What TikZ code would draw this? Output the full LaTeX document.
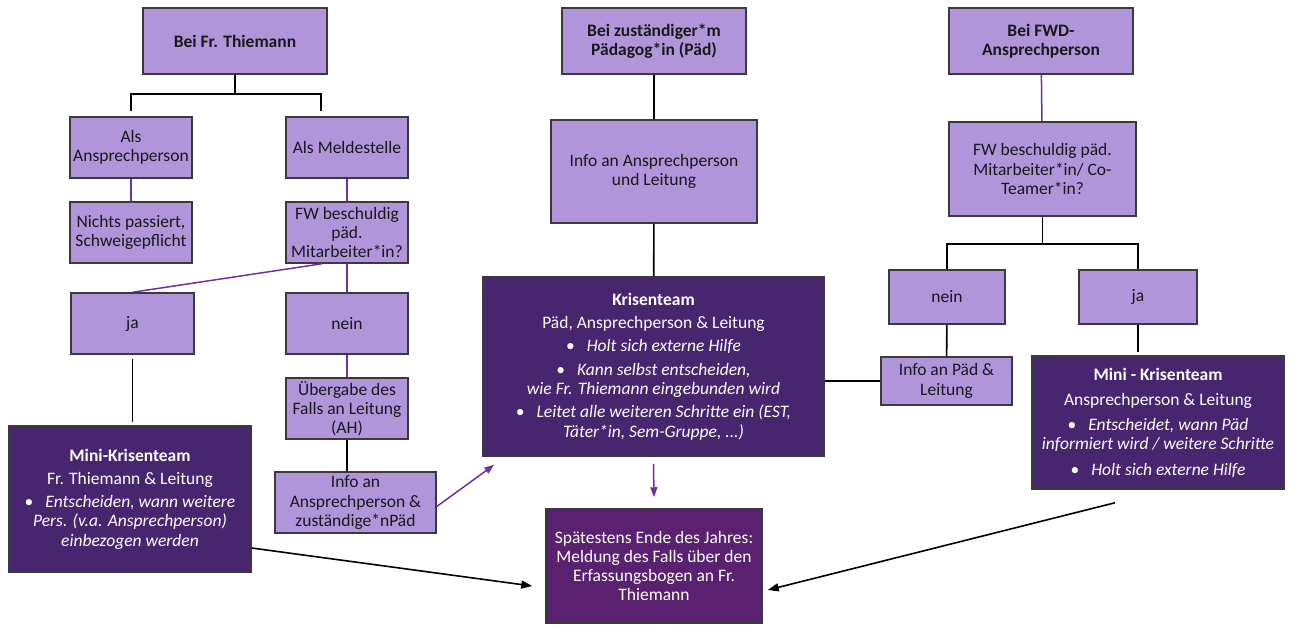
\documentclass[tikz,border=0pt]{standalone}
\usepackage{fontspec}
\setmainfont{Carlito}
\usetikzlibrary{arrows.meta}
\definecolor{lila}{HTML}{B195DB}
\definecolor{dunkel}{HTML}{47256F}
\definecolor{spaetlila}{HTML}{5A2170}
\definecolor{rand}{HTML}{3A3A3A}
\definecolor{strich}{HTML}{7030A0}

\begin{document}
\begin{tikzpicture}[x=1pt,y=-1pt,
    every node/.style={font=\fontsize{17.5}{19.3}\selectfont},
    lbox/.style={draw=rand,line width=1.5pt,fill=lila,text=black!90,align=center,inner sep=0pt},
    dbox/.style={draw=rand,line width=1.5pt,fill=dunkel,text=white,align=center,inner sep=0pt},
    pline/.style={strich,line width=1.5pt},
    bline/.style={black,line width=1.6pt},
    parrow/.style={pline,-{Triangle[length=10pt,width=7pt]}},
    barrow/.style={bline,-{Triangle[length=11pt,width=8pt]}}]
    \useasboundingbox (0,0) rectangle (1298,625);

    % links: Bei Fr. Thiemann
    \node[lbox,minimum width=184pt,minimum height=66pt] (thiem) at (235,41) {\textbf{Bei Fr. Thiemann}};
    \node[lbox,minimum width=122pt,minimum height=61pt] (ansp) at (131,147.5) {Als\\Ansprechperson};
    \node[lbox,minimum width=122pt,minimum height=61pt] (melde) at (347,147.5) {Als Meldestelle};
    \node[lbox,minimum width=122pt,minimum height=61pt] (nichts) at (131,232.5) {Nichts passiert,\\Schweigepflicht};
    \node[lbox,minimum width=122pt,minimum height=61pt] (fwl) at (347,232.5) {FW beschuldig\\päd.\\Mitarbeiter*in?};
    \node[lbox,minimum width=123pt,minimum height=61pt] (jal) at (132.5,323.5) {ja};
    \node[lbox,minimum width=122pt,minimum height=61pt] (neinl) at (347,323.5) {nein};
    \node[lbox,minimum width=122pt,minimum height=61pt] (uebergabe) at (347,408.5) {Übergabe des\\Falls an Leitung\\(AH)};
    \node[lbox,minimum width=161pt,minimum height=61pt] (infol) at (355.5,502.5) {Info an\\Ansprechperson \&\\zuständige*nPäd};
    \node[dbox,minimum width=242pt,minimum height=146pt] (minil) at (130,499) {\textbf{Mini-Krisenteam}\\[4pt]Fr. Thiemann \& Leitung\\[4pt]\textbullet\hspace{12pt}\textit{Entscheiden, wann weitere}\\\textit{Pers. (v.a. Ansprechperson)}\\\textit{einbezogen werden}};

    % Mitte: Bei Paed
    \node[lbox,minimum width=184pt,minimum height=66pt] (paed) at (654,41) {\textbf{Bei zuständiger*m}\\\textbf{Pädagog*in (Päd)}};
    \node[lbox,minimum width=206pt,minimum height=103pt] (infom) at (654,171.5) {Info an Ansprechperson\\und Leitung};
    \node[dbox,minimum width=341pt,minimum height=179pt] (krise) at (653.5,366.5) {\textbf{Krisenteam}\\[4pt]Päd, Ansprechperson \& Leitung\\[4pt]\textbullet\hspace{12pt}\textit{Holt sich externe Hilfe}\\[4pt]\textbullet\hspace{12pt}\textit{Kann selbst entscheiden,}\\\textit{wie Fr. Thiemann eingebunden wird}\\[4pt]\textbullet\hspace{12pt}\textit{Leitet alle weiteren Schritte ein (EST,}\\\textit{Täter*in, Sem-Gruppe, ...)}};
    \node[dbox,fill=spaetlila,minimum width=216pt,minimum height=114pt] (spaet) at (654,566) {Spätestens Ende des Jahres:\\Meldung des Falls über den\\Erfassungsbogen an Fr.\\Thiemann};

    % rechts: Bei FWD
    \node[lbox,minimum width=184pt,minimum height=66pt] (fwd) at (1041,41) {\textbf{Bei FWD-}\\\textbf{Ansprechperson}};
    \node[lbox,minimum width=187pt,minimum height=94pt] (fwr) at (1042.5,169) {FW beschuldig päd.\\Mitarbeiter*in/ Co-\\Teamer*in?};
    \node[lbox,minimum width=116pt,minimum height=54pt] (neinr) at (947,297) {nein};
    \node[lbox,minimum width=118pt,minimum height=54pt] (jar) at (1138,297) {ja};
    \node[lbox,minimum width=131pt,minimum height=48pt] (infor) at (946.5,381) {Info an Päd \&\\Leitung};
    \node[dbox,minimum width=252pt,minimum height=133pt] (minir) at (1158,422.5) {\textbf{Mini - Krisenteam}\\[6pt]Ansprechperson \& Leitung\\[6pt]\textbullet\hspace{12pt}\textit{Entscheidet, wann Päd}\\\textit{informiert wird / weitere Schritte}\\[6pt]\textbullet\hspace{12pt}\textit{Holt sich externe Hilfe}};

    % Verbindungen
    \draw[bline] (thiem.south) -- ++(0,19) -| ([yshift=5pt]ansp.north);
    \draw[bline] (thiem.south) -- ++(0,19) -| ([xshift=-26pt,yshift=5pt]melde.north);
    \draw[pline] (ansp) -- (nichts);
    \draw[pline] (melde) -- (fwl);
    \draw[pline] ([xshift=-25pt]fwl.south) -- (jal.north);
    \draw[pline] (fwl) -- (neinl);
    \draw[bline,shorten <=4pt,shorten >=3pt] (jal.south) -- (jal.south |- minil.north);
    \draw[pline] (neinl) -- (uebergabe);
    \draw[bline] (uebergabe.south) -- (uebergabe.south |- infol.north);
    \coordinate (kin) at ([xshift=12pt,yshift=-8pt]krise.south west);
    \draw[parrow] ([yshift=-4pt]infol.east) -- (kin);
    \draw[bline] (paed) -- (infom);
    \draw[bline] (infom) -- (krise);
    \draw[parrow] ([yshift=-7pt]krise.south) -- ([yshift=11pt]spaet.north);
    \draw[bline] (infor.west) -- (infor.west -| krise.east);
    \draw[pline] (fwd) -- (fwr);
    \draw[bline] (fwr.south) -- ++(0,27) -| (neinr.north);
    \draw[bline] (fwr.south) -- ++(0,27) -| (jar.north);
    \draw[bline] (neinr) -- (infor);
    \draw[bline,shorten >=3pt] (jar.south) -- (jar.south |- minir.north);
    \draw[barrow] ([yshift=-49pt]minil.east) -- ([xshift=-13pt,yshift=-20pt]spaet.west);
    \draw[barrow] ([xshift=-43pt,yshift=-13pt]minir.south) -- ([xshift=5pt,yshift=-24pt]spaet.east);
\end{tikzpicture}
\end{document}
